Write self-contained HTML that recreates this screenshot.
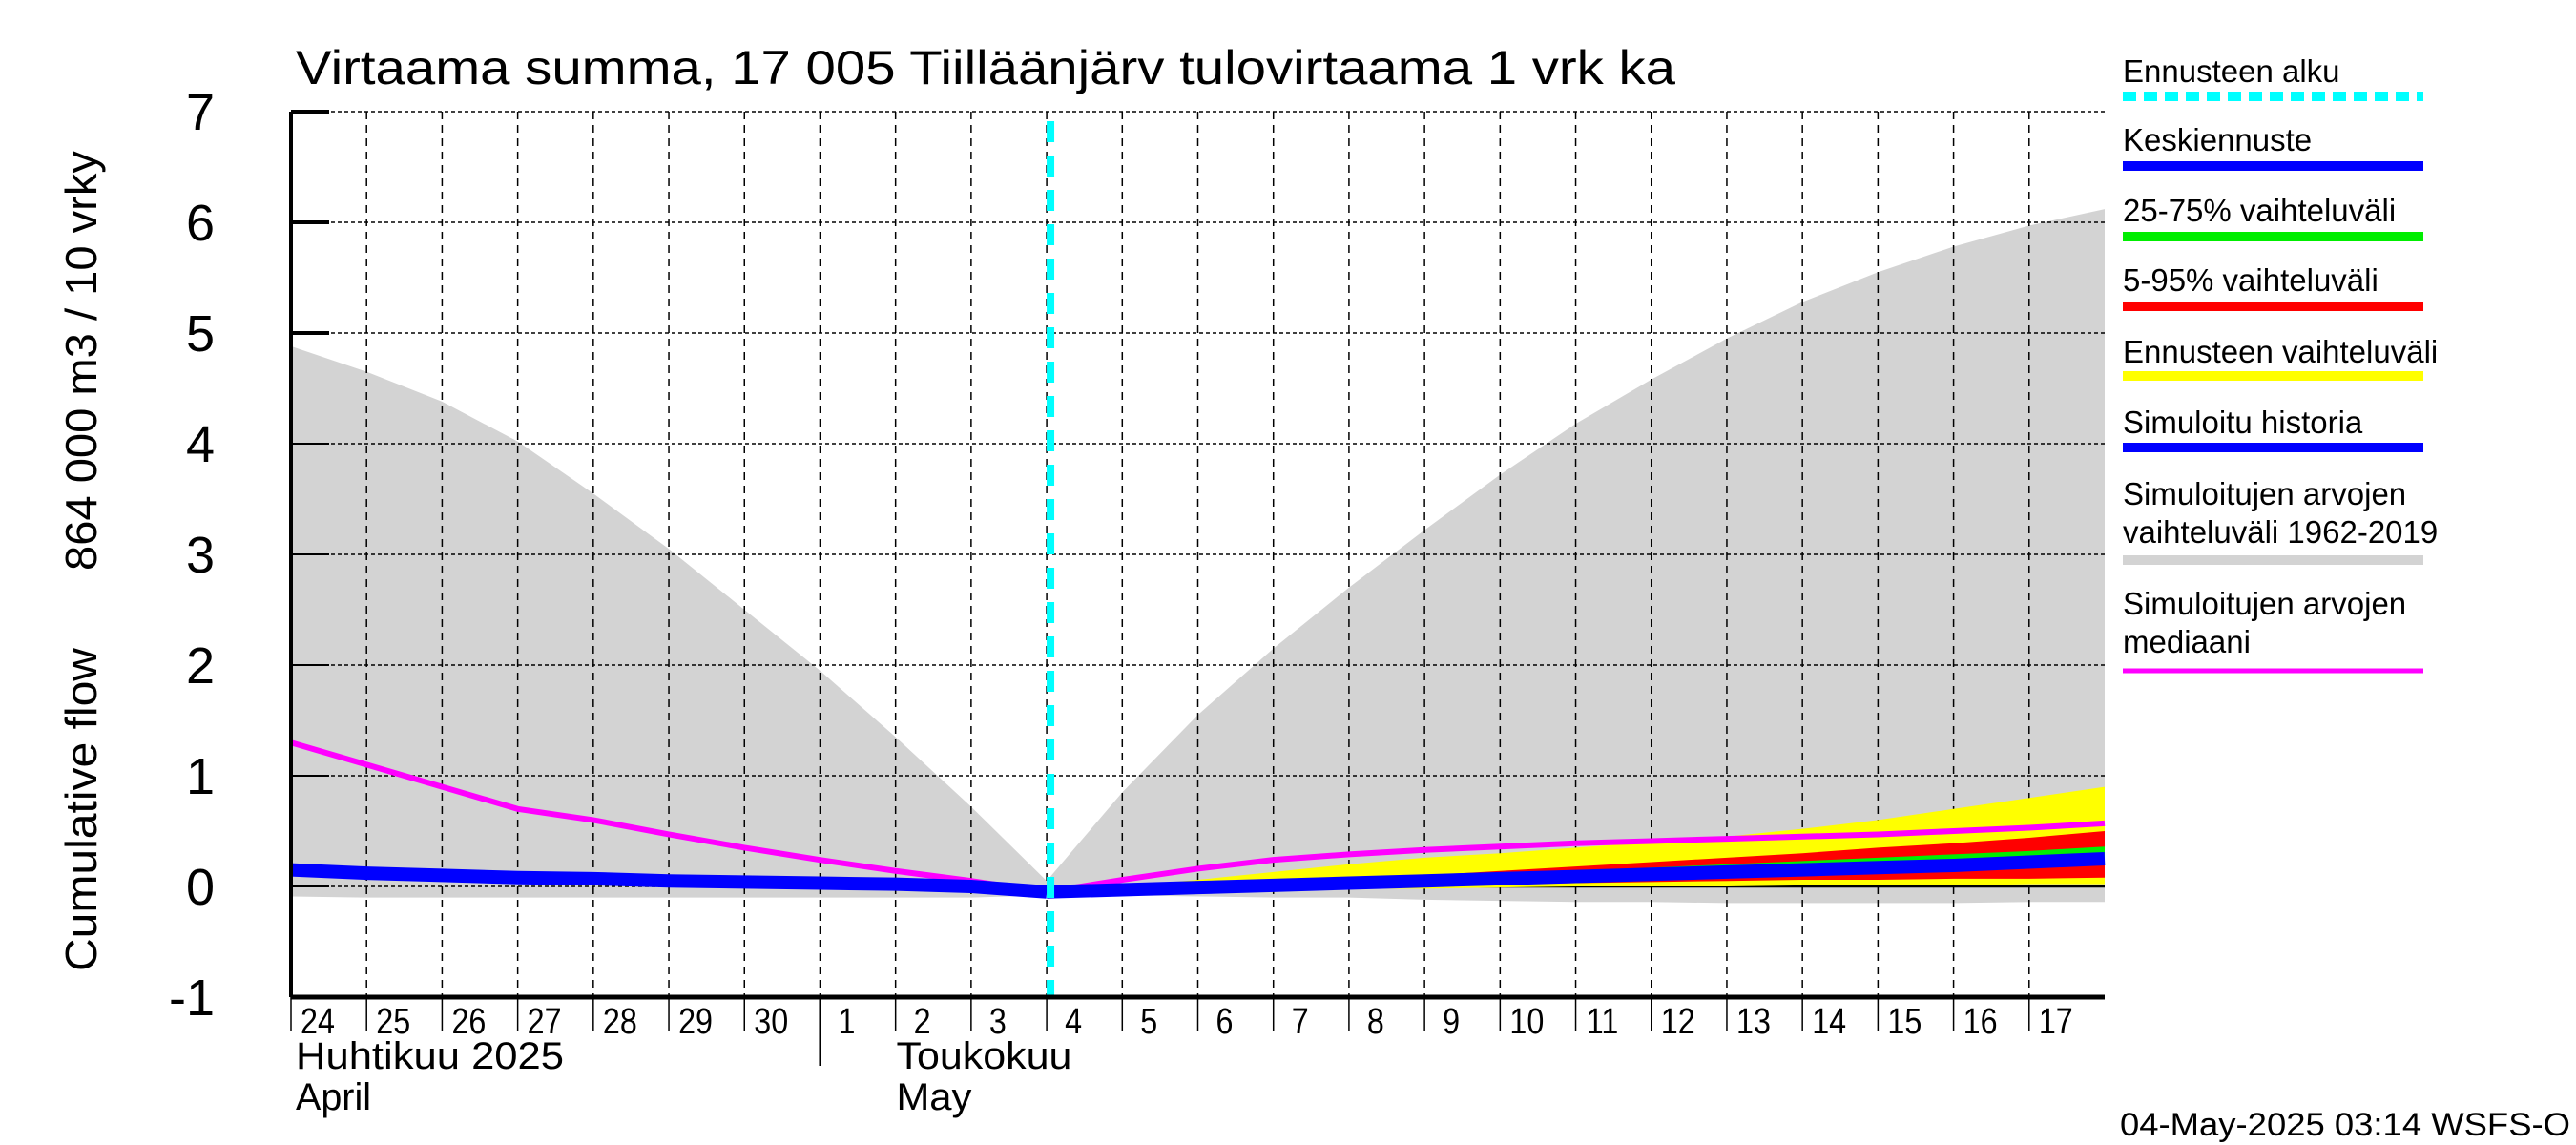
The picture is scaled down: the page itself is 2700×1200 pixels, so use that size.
<!DOCTYPE html>
<html><head><meta charset="utf-8">
<style>
html,body{margin:0;padding:0;background:#fff;}
svg{display:block;font-family:"Liberation Sans",Arial,sans-serif;}
</style></head>
<body>
<svg id="chart" width="2700" height="1200" viewBox="0 0 2700 1200" xmlns="http://www.w3.org/2000/svg">
<text x="310" y="88" font-size="50" textLength="1446" lengthAdjust="spacingAndGlyphs">Virtaama summa, 17 005 Tiilläänjärv tulovirtaama 1 vrk ka</text>
<text transform="translate(101,1018) rotate(-90)" font-size="46" textLength="339" lengthAdjust="spacingAndGlyphs">Cumulative flow</text>
<text transform="translate(101,598) rotate(-90)" font-size="46" textLength="440" lengthAdjust="spacingAndGlyphs">864 000 m3 / 10 vrky</text>
<g id="plot"></g>
<g id="xaxis"></g>
<g id="yaxis"></g>
<g id="legend"></g>
<text x="2222" y="1190" font-size="34" textLength="472" lengthAdjust="spacingAndGlyphs">04-May-2025 03:14 WSFS-O</text>
</svg>
<script>
const yTicks = [-1,0,1,2,3,4,5,6,7];
const dayLabels = ["24","25","26","27","28","29","30","1","2","3","4","5","6","7","8","9","10","11","12","13","14","15","16","17"];
const days = [0,1,2,3,4,5,6,7,8,9,10,11,12,13,14,15,16,17,18,19,20,21,22,23,24];
const grayUpper = [4.88,4.65,4.38,4.02,3.55,3.05,2.5,1.95,1.35,0.72,0.05,0.85,1.55,2.15,2.7,3.22,3.72,4.18,4.58,4.95,5.28,5.55,5.78,5.97,6.12];
const grayLower = [-0.09,-0.1,-0.1,-0.1,-0.1,-0.1,-0.1,-0.1,-0.1,-0.1,-0.08,-0.08,-0.09,-0.1,-0.1,-0.12,-0.13,-0.14,-0.14,-0.15,-0.15,-0.15,-0.15,-0.14,-0.14];
const median = [1.3,1.1,0.9,0.7,0.6,0.47,0.35,0.24,0.14,0.05,-0.05,0.06,0.16,0.24,0.29,0.33,0.36,0.39,0.41,0.43,0.45,0.47,0.5,0.53,0.57];
const history = [0.15,0.12,0.1,0.08,0.07,0.05,0.04,0.03,0.02,0.0,-0.05];
const fcDays = [10,11,12,13,14,15,16,17,18,19,20,21,22,23,24];
const yellowUp = [-0.05,0.0,0.06,0.13,0.2,0.26,0.3,0.35,0.4,0.45,0.52,0.6,0.7,0.8,0.9];
const yellowLo = [-0.05,-0.04,-0.03,-0.02,-0.02,-0.02,-0.01,0,0,0,0.01,0.01,0.01,0.02,0.02];
const redUp = [-0.05,-0.03,0.0,0.03,0.06,0.1,0.14,0.18,0.22,0.26,0.3,0.35,0.39,0.44,0.5];
const redLo = [-0.05,-0.04,-0.03,-0.02,0.0,0.01,0.02,0.03,0.04,0.05,0.06,0.06,0.07,0.07,0.08];
const greenUp = [-0.05,-0.03,-0.01,0.02,0.05,0.08,0.11,0.14,0.17,0.2,0.23,0.26,0.29,0.32,0.36];
const greenLo = [-0.05,-0.03,-0.01,0.01,0.03,0.05,0.07,0.09,0.11,0.13,0.15,0.16,0.18,0.2,0.21];
const meanFc = [-0.05,-0.03,-0.01,0.01,0.03,0.05,0.07,0.09,0.11,0.13,0.15,0.17,0.19,0.22,0.25];
const forecastStart = 10.05;

const NS="http://www.w3.org/2000/svg";
const X0=305,X1=2206,Y0=117,Y1=1045;
function xs(d){return X0+(X1-X0)*d/24;}
function ys(v){return Y1-(Y1-Y0)*(v+1)/8;}
function mk(tag,attrs,parent){const e=document.createElementNS(NS,tag);for(const k in attrs)e.setAttribute(k,attrs[k]);parent.appendChild(e);return e;}
const plot=document.getElementById('plot'),xa=document.getElementById('xaxis'),ya=document.getElementById('yaxis'),lg=document.getElementById('legend');
function band(dx,up,lo,fill,name){
  let p=dx.map((d,i)=>xs(d)+','+ys(up[i])).join(' ')+' '+dx.map((d,i)=>xs(d)+','+ys(lo[i])).reverse().join(' ');
  const e=mk('polygon',{points:p,fill:fill},plot);
  
  
}
function line(dx,v,stroke,w,name){
  const e=mk('polyline',{points:dx.map((d,i)=>xs(d)+','+ys(v[i])).join(' '),fill:'none',stroke:stroke,'stroke-width':w},plot);
  
  
}
band(days,grayUpper,grayLower,'#d3d3d3','simulated-range-band');
for(let d=1;d<24;d++){const g=mk('line',{x1:xs(d),x2:xs(d),y1:Y0,y2:Y1,stroke:'#000','stroke-width':1.5,'stroke-dasharray':'8,6'},plot);

}
yTicks.forEach(v=>{if(v===-1)return;const g=mk('line',{x1:X0,x2:X1,y1:ys(v),y2:ys(v),stroke:'#000','stroke-width':1.5,'stroke-dasharray':'4,3'},plot);

});
const zl=mk('line',{x1:xs(15),x2:X1,y1:ys(0),y2:ys(0),stroke:'#000','stroke-width':2.5},plot);


band(fcDays,yellowUp,yellowLo,'#ffff00','forecast-range-band');
band(fcDays,redUp,redLo,'#ff0000','range-5-95-band');
band(fcDays,greenUp,greenLo,'#00ee00','range-25-75-band');
line(days,median,'#ff00ff',6,'median-line');
line(days.slice(0,11),history,'#0000ff',14,'simulated-history-line');
line(fcDays,meanFc,'#0000ff',14,'mean-forecast-line');
const fl=mk('line',{x1:xs(forecastStart),x2:xs(forecastStart),y1:Y0+10,y2:Y1,stroke:'#00ffff','stroke-width':8,'stroke-dasharray':'22,14'},plot);


const la=mk('line',{x1:X0,x2:X0,y1:Y0,y2:Y1,stroke:'#000','stroke-width':4},ya);


yTicks.forEach(v=>{
  const t=mk('line',{x1:X0,x2:X0+40,y1:ys(v),y2:ys(v),stroke:'#000','stroke-width':v>=5?4:2},ya);
  
  
  const tx=mk('text',{x:225,y:ys(v)+19,'font-size':54,'text-anchor':'end'},ya);
  tx.textContent=String(v);
  
  
});
const ba=mk('line',{x1:X0,x2:X1,y1:Y1,y2:Y1,stroke:'#000','stroke-width':5},xa);


dayLabels.forEach((l,i)=>{
  const tk=mk('line',{x1:xs(i),x2:xs(i),y1:Y1,y2:Y1+35,stroke:'#000','stroke-width':1.5},xa);
  
  
  const tx=mk('text',{x:xs(i)+28,y:Y1+38,'font-size':38,'text-anchor':'middle',transform:'translate('+(xs(i)+28)+',0) scale(0.85,1) translate('+(-(xs(i)+28))+',0)'},xa);
  tx.textContent=l;
  
  
});
const sep=mk('line',{x1:xs(7),x2:xs(7),y1:Y1,y2:Y1+72,stroke:'#000','stroke-width':2},xa);


[["Huhtikuu  2025",310,1120,281],["April",310,1163,79],["Toukokuu",xs(7)+80,1120,184],["May",xs(7)+80,1163,79]].forEach(m=>{
  const tx=mk('text',{x:m[1],y:m[2],'font-size':40,textLength:m[3],lengthAdjust:'spacingAndGlyphs'},xa);
  tx.textContent=m[0];
  
  
});
const LX=2225,LX2=2540;
const legendItems=[
 [["Ennusteen alku"],74,101,'#00ffff','dash'],
 [["Keskiennuste"],146,174,'#0000ff'],
 [["25-75% vaihteluväli"],220,248,'#00ee00'],
 [["5-95% vaihteluväli"],293,321,'#ff0000'],
 [["Ennusteen vaihteluväli"],368,394,'#ffff00'],
 [["Simuloitu historia"],442,469,'#0000ff'],
 [["Simuloitujen arvojen","vaihteluväli 1962-2019"],517,587,'#d3d3d3'],
 [["Simuloitujen arvojen","mediaani"],632,703,'#ff00ff','thin']
];
legendItems.forEach(it=>{
  it[0].forEach((s,j)=>{
    const tx=mk('text',{x:LX,y:it[1]+12+j*40,'font-size':33},lg);
    tx.textContent=s;
    
    
  });
  const a={x1:LX,x2:LX2,y1:it[2],y2:it[2],stroke:it[3],'stroke-width':it[4]==='thin'?5:10};
  if(it[4]==='dash')a['stroke-dasharray']='14,8';
  const ln=mk('line',a,lg);
  
  
});
</script>
</body></html>
